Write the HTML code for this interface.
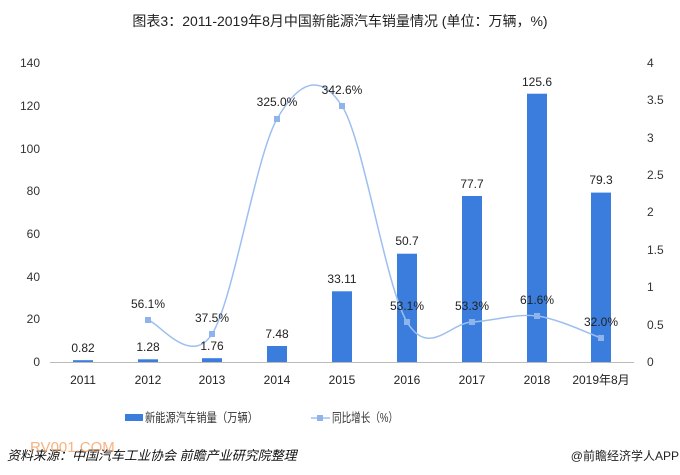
<!DOCTYPE html><html><head><meta charset="utf-8"><style>body{margin:0;background:#fff}svg{display:block;font-family:"Liberation Sans","Noto Sans CJK SC",sans-serif}</style></head><body>
<svg width="680" height="475" viewBox="0 0 680 475">
<text x="340" y="26" text-anchor="middle" font-size="14" fill="#222">图表3：2011-2019年8月中国新能源汽车销量情况 (单位：万辆，%)</text>
<g font-size="12" fill="#333" text-anchor="end">
<text x="40" y="366">0</text><text x="40" y="323">20</text><text x="40" y="281">40</text><text x="40" y="238">60</text><text x="40" y="195">80</text><text x="40" y="153">100</text><text x="40" y="110">120</text><text x="40" y="67">140</text></g>
<g font-size="12" fill="#333">
<text x="647" y="366">0</text><text x="647" y="329">0.5</text><text x="647" y="291">1</text><text x="647" y="254">1.5</text><text x="647" y="216">2</text><text x="647" y="179">2.5</text><text x="647" y="142">3</text><text x="647" y="104">3.5</text><text x="647" y="67">4</text></g>
<line x1="50" y1="362.5" x2="634" y2="362.5" stroke="#bbb"/>
<g fill="#3b7ddd">
<rect x="73" y="360.2" width="20" height="1.8"/><rect x="138" y="359.3" width="20" height="2.7"/><rect x="202" y="358.2" width="20" height="3.8"/><rect x="267" y="346" width="20" height="16"/><rect x="332" y="291.3" width="20" height="70.7"/><rect x="397" y="253.7" width="20" height="108.3"/><rect x="462" y="196" width="20" height="166"/><rect x="527" y="93.7" width="20" height="268.3"/><rect x="591" y="192.6" width="20" height="169.4"/></g>
<path d="M148,320 C158.7,322.3 190.5,367.5 212,334 C233.5,300.5 255.3,157 277,119 C298.7,81 320.3,72.2 342,106 C363.7,139.8 385.3,286 407,322 C428.7,358 450.3,323 472,322 C493.7,321 515.5,313.3 537,316 C558.5,318.7 590.3,334.3 601,338" fill="none" stroke="#9dbff0" stroke-width="1.5"/>
<g fill="#8fb4ec"><rect x="145" y="317" width="6" height="6"/><rect x="209" y="331" width="6" height="6"/><rect x="274" y="116" width="6" height="6"/><rect x="339" y="103" width="6" height="6"/><rect x="404" y="319" width="6" height="6"/><rect x="469" y="319" width="6" height="6"/><rect x="534" y="313" width="6" height="6"/><rect x="598" y="335" width="6" height="6"/></g>
<g font-size="12" fill="#222" text-anchor="middle">
<text x="83" y="352">0.82</text><text x="148" y="351">1.28</text><text x="212" y="350">1.76</text><text x="277" y="338">7.48</text><text x="342" y="283">33.11</text><text x="407" y="245">50.7</text><text x="472" y="188">77.7</text><text x="537" y="86">125.6</text><text x="601" y="184">79.3</text>
<text x="148" y="308">56.1%</text><text x="212" y="322">37.5%</text><text x="277" y="106">325.0%</text><text x="342" y="94">342.6%</text><text x="407" y="310">53.1%</text><text x="472" y="310">53.3%</text><text x="537" y="304">61.6%</text><text x="601" y="326">32.0%</text>
<text x="83" y="384">2011</text><text x="148" y="384">2012</text><text x="212" y="384">2013</text><text x="277" y="384">2014</text><text x="342" y="384">2015</text><text x="407" y="384">2016</text><text x="472" y="384">2017</text><text x="537" y="384">2018</text><text x="601" y="384">2019年8月</text></g>
<rect x="125" y="414" width="18" height="7" fill="#3b7ddd"/>
<text x="145" y="422" font-size="12.5" fill="#333" textLength="113" lengthAdjust="spacingAndGlyphs">新能源汽车销量（万辆）</text>
<line x1="311" y1="418" x2="330" y2="418" stroke="#9dbff0" stroke-width="1.5"/><rect x="317" y="415" width="6" height="6" fill="#8fb4ec"/>
<text x="332" y="422" font-size="12.5" fill="#333" textLength="66" lengthAdjust="spacingAndGlyphs">同比增长（%）</text>
<text x="7" y="460" font-size="13" font-style="italic" fill="#111">资料来源：中国汽车工业协会 前瞻产业研究院整理</text>
<text x="30" y="452" font-size="15" fill="#f5a060" opacity="0.8">RV001.COM</text>
<text x="679" y="460" font-size="12" text-anchor="end" fill="#222">@前瞻经济学人APP</text>
</svg></body></html>
